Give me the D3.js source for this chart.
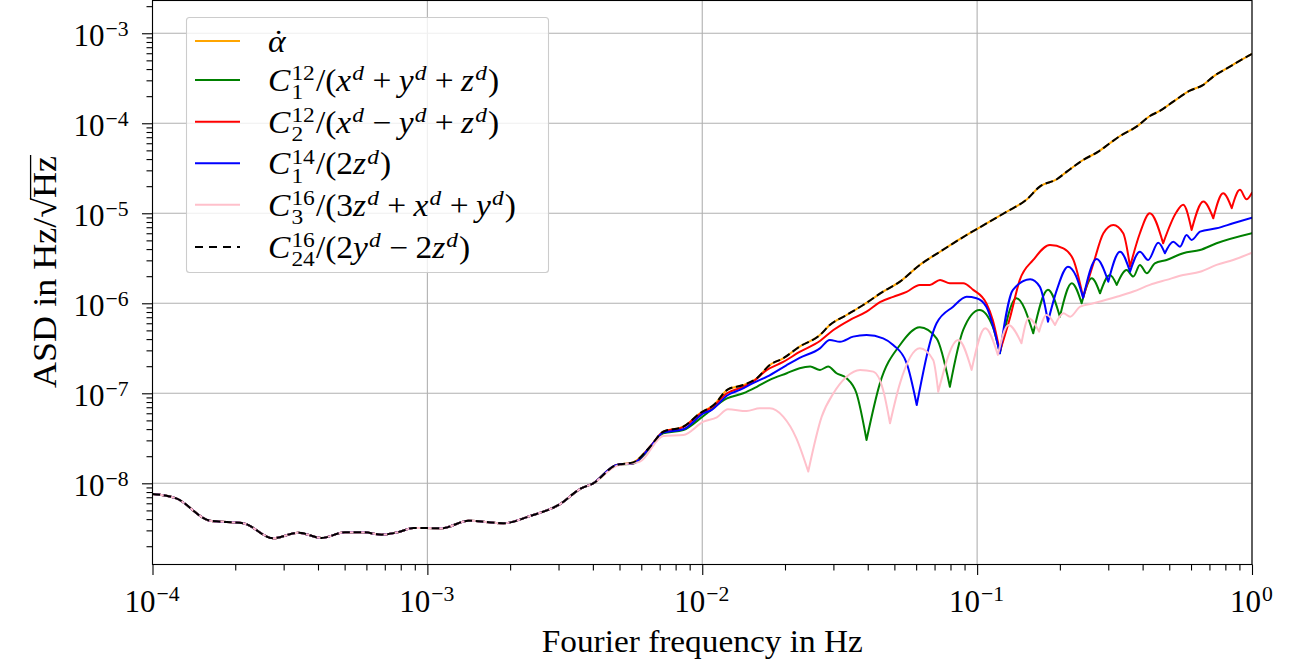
<!DOCTYPE html>
<html>
<head>
<meta charset="utf-8">
<script src="https://cdn.jsdelivr.net/npm/d3@7"></script>
<style>
  body { margin: 0; background: #fff; }
  svg { display: block; }
  text { font-family: "Liberation Serif", "DejaVu Serif", serif; fill: #000; }
</style>
</head>
<body>
<div id="chart"></div>
<script>
// ---- data ----
// all six curves coincide below ~4 mHz
const sharedFreq = [1.0e-4, 1.22e-4, 1.62e-4, 2.14e-4, 2.75e-4, 3.39e-4, 4.12e-4, 5.01e-4, 5.85e-4, 6.83e-4,
  7.94e-4, 8.89e-4, 1.13e-3, 1.41e-3, 1.89e-3, 2.36e-3, 3.03e-3, 3.59e-3, 4.01e-3];
const sharedAsd = [7.6e-9, 6.8e-9, 3.84e-9, 3.6e-9, 2.45e-9, 2.83e-9, 2.47e-9, 2.86e-9, 2.86e-9, 2.69e-9,
  2.90e-9, 3.19e-9, 3.17e-9, 3.84e-9, 3.6e-9, 4.33e-9, 5.84e-9, 8.64e-9, 1.0e-8];

const alphaFreq = [4.88e-3, 5.61e-3, 6.46e-3, 7.21e-3, 8.53e-3, 9.81e-3, 1.10e-2, 1.24e-2, 1.41e-2, 1.58e-2,
  1.76e-2, 1.97e-2, 2.26e-2, 2.68e-2, 2.91e-2, 3.35e-2, 3.85e-2, 4.55e-2, 5.24e-2, 6.19e-2,
  7.33e-2, 9.16e-2, 0.111, 0.128, 0.151, 0.169, 0.195, 0.212, 0.243, 0.276,
  0.304, 0.331, 0.380, 0.425, 0.462, 0.517, 0.594, 0.665, 0.723, 0.831, 0.904, 1.0];
const alphaAsd = [1.6e-8, 1.71e-8, 2.55e-8, 3.74e-8, 4.26e-8, 6.0e-8, 7.41e-8, 1.107e-7, 1.236e-7, 1.47e-7,
  2.06e-7, 2.45e-7, 3.3e-7, 4.44e-7, 5.74e-7, 7.41e-7, 9.57e-7, 1.35e-6, 1.74e-6, 2.67e-6,
  3.74e-6, 5.74e-6, 8.07e-6, 1.04e-5, 1.41e-5, 1.98e-5, 2.39e-5, 2.9e-5, 3.91e-5, 4.84e-5,
  6.0e-5, 7.22e-5, 9.17e-5, 1.205e-4, 1.37e-4, 1.74e-4, 2.30e-4, 2.67e-4, 3.3e-4, 4.26e-4, 4.96e-4, 5.89e-4];

const greenFreq = [4.88e-3, 5.61e-3, 6.46e-3, 7.21e-3, 8.53e-3, 1.01e-2, 1.23e-2, 1.41e-2, 1.58e-2, 1.76e-2,
  2.03e-2, 2.26e-2, 2.47e-2, 2.68e-2, 2.87e-2, 3.08e-2, 3.35e-2, 3.64e-2, 3.96e-2, 4.43e-2,
  5.24e-2, 6.19e-2, 7.12e-2, 7.96e-2, 8.90e-2, 0.102, 0.114, 0.121, 0.139, 0.160,
  0.181, 0.200, 0.221, 0.240, 0.261, 0.280, 0.304, 0.322, 0.350, 0.370,
  0.391, 0.414, 0.443, 0.489, 0.562, 0.647, 0.743, 1.0];
const greenAsd = [1.6e-8, 1.66e-8, 2.47e-8, 3.59e-8, 3.91e-8, 5.6e-8, 8.8e-8, 1.0e-7, 1.18e-7, 1.41e-7,
  1.67e-7, 1.9e-7, 1.98e-7, 1.82e-7, 1.98e-7, 1.67e-7, 1.47e-7, 1.0e-7, 3.03e-8, 1.29e-7,
  3.44e-7, 5.41e-7, 4.08e-7, 1.18e-7, 5.05e-7, 8.43e-7, 5.5e-7, 2.78e-7, 1.14e-6, 4.64e-7,
  1.41e-6, 7.1e-7, 1.67e-6, 1.0e-6, 1.9e-6, 1.29e-6, 2.06e-6, 1.6e-6, 2.34e-6, 1.98e-6,
  2.67e-6, 2.16e-6, 2.78e-6, 3.03e-6, 3.6e-6, 3.91e-6, 4.64e-6, 6.0e-6];

const redFreq = [4.88e-3, 5.61e-3, 6.46e-3, 7.21e-3, 8.53e-3, 9.81e-3, 1.10e-2, 1.23e-2, 1.41e-2, 1.53e-2,
  1.72e-2, 1.97e-2, 2.26e-2, 2.68e-2, 3.00e-2, 3.44e-2, 3.96e-2, 4.43e-2, 4.95e-2, 5.54e-2,
  6.19e-2, 6.73e-2, 7.33e-2, 7.96e-2, 8.90e-2, 9.68e-2, 0.108, 0.114, 0.121, 0.132,
  0.143, 0.160, 0.184, 0.206, 0.224, 0.243, 0.265, 0.288, 0.313, 0.340,
  0.360, 0.391, 0.425, 0.475, 0.532, 0.562, 0.603, 0.665, 0.723, 0.785, 0.844, 0.904, 0.955, 1.0];
const redAsd = [1.6e-8, 1.67e-8, 2.55e-8, 3.72e-8, 4.22e-8, 5.89e-8, 7.22e-8, 1.0e-7, 1.18e-7, 1.35e-7,
  1.82e-7, 2.23e-7, 2.88e-7, 3.81e-7, 5.05e-7, 6.52e-7, 8.07e-7, 1.03e-6, 1.18e-6, 1.34e-6,
  1.6e-6, 1.6e-6, 1.82e-6, 1.67e-6, 1.67e-6, 1.41e-6, 1.0e-6, 6.52e-7, 2.9e-7, 7.1e-7,
  1.82e-6, 3.03e-6, 4.44e-6, 4.08e-6, 3.03e-6, 1.16e-6, 2.78e-6, 6.0e-6, 7.41e-6, 6.0e-6,
  2.55e-6, 6.0e-6, 1.0e-5, 4.64e-6, 1.04e-5, 1.24e-5, 6.52e-6, 1.35e-5, 8.8e-6, 1.67e-5, 1.14e-5, 1.82e-5, 1.43e-5, 1.69e-5];

const blueFreq = [4.88e-3, 5.61e-3, 6.46e-3, 7.21e-3, 8.53e-3, 1.01e-2, 1.08e-2, 1.24e-2, 1.37e-2, 1.53e-2,
  1.72e-2, 2.03e-2, 2.26e-2, 2.68e-2, 2.91e-2, 3.17e-2, 3.54e-2, 3.96e-2, 4.55e-2, 4.95e-2,
  5.54e-2, 6.03e-2, 7.12e-2, 8.18e-2, 9.16e-2, 9.95e-2, 0.108, 0.121, 0.135, 0.156,
  0.169, 0.181, 0.195, 0.214, 0.229, 0.243, 0.272, 0.300, 0.331, 0.360,
  0.391, 0.419, 0.456, 0.482, 0.517, 0.547, 0.578, 0.603, 0.647, 0.743, 0.854, 1.0];
const blueAsd = [1.6e-8, 1.67e-8, 2.53e-8, 3.67e-8, 3.98e-8, 6.0e-8, 6.52e-8, 9.57e-8, 1.09e-7, 1.3e-7,
  1.53e-7, 2.06e-7, 2.47e-7, 3.16e-7, 3.91e-7, 3.74e-7, 4.26e-7, 4.44e-7, 4.08e-7, 3.44e-7,
  2.16e-7, 7.41e-8, 6.0e-7, 9.17e-7, 1.18e-6, 1.14e-6, 9.17e-7, 2.78e-7, 1.41e-6, 1.85e-6,
  1.53e-6, 6.25e-7, 1.41e-6, 2.55e-6, 2.01e-6, 1.15e-6, 3.1e-6, 1.74e-6, 3.74e-6, 2.24e-6,
  3.74e-6, 3.03e-6, 4.71e-6, 3.6e-6, 4.84e-6, 4.26e-6, 5.74e-6, 5.05e-6, 6.25e-6, 6.81e-6, 7.74e-6, 8.93e-6];

const pinkFreq = [4.88e-3, 5.93e-3, 7.21e-3, 8.53e-3, 1.01e-2, 1.13e-2, 1.24e-2, 1.45e-2, 1.62e-2, 1.76e-2,
  1.97e-2, 2.20e-2, 2.43e-2, 2.72e-2, 3.00e-2, 3.35e-2, 3.75e-2, 4.19e-2, 4.55e-2, 4.82e-2,
  5.24e-2, 6.19e-2, 6.92e-2, 7.22e-2, 8.54e-2, 9.55e-2, 0.107, 0.119, 0.130, 0.145,
  0.154, 0.168, 0.179, 0.192, 0.206, 0.218, 0.237, 0.265, 0.322, 0.370,
  0.425, 0.489, 0.562, 0.647, 0.743, 0.854, 1.0];
const pinkAsd = [1.56e-8, 1.74e-8, 3.36e-8, 3.44e-8, 4.84e-8, 5.41e-8, 6.64e-8, 6.36e-8, 6.81e-8, 6.81e-8,
  5.5e-8, 3.16e-8, 1.35e-8, 5.5e-8, 1.0e-7, 1.53e-7, 1.82e-7, 1.74e-7, 1.09e-7, 4.64e-8,
  1.29e-7, 3.16e-7, 2.34e-7, 1.04e-7, 3.91e-7, 1.82e-7, 5.28e-7, 2.67e-7, 5.74e-7, 3.6e-7,
  6.81e-7, 4.84e-7, 7.41e-7, 5.74e-7, 7.74e-7, 7.1e-7, 9.17e-7, 1.0e-6, 1.18e-6, 1.35e-6,
  1.6e-6, 1.82e-6, 2.06e-6, 2.24e-6, 2.67e-6, 3.03e-6, 3.65e-6];

// the C24 combination lies exactly on top of alpha-dot
const c24Freq = alphaFreq;
const c24Asd = alphaAsd;

const xMajor = [1e-4, 1e-3, 1e-2, 1e-1, 1];
const xMajorLabels = ["\u22124", "\u22123", "\u22122", "\u22121", "0"];
const yMajor = [1e-8, 1e-7, 1e-6, 1e-5, 1e-4, 1e-3];
const yMajorLabels = ["\u22128", "\u22127", "\u22126", "\u22125", "\u22124", "\u22123"];

// legend labels as small math pieces
const it = s => ({ t: s, it: true });
const sup = s => ({ sup: s, supIt: true });
const op = s => ({ t: s, pad: 0.22 });
const labels = [
  [{ t: "\u03B1", it: true, dot: true }],
  [it("C"), { sup: "12", sub: "1" }, { t: "/(" }, it("x"), sup("d"), op("+"), it("y"), sup("d"), op("+"), it("z"), sup("d"), { t: ")" }],
  [it("C"), { sup: "12", sub: "2" }, { t: "/(" }, it("x"), sup("d"), op("\u2212"), it("y"), sup("d"), op("+"), it("z"), sup("d"), { t: ")" }],
  [it("C"), { sup: "14", sub: "1" }, { t: "/(2" }, it("z"), sup("d"), { t: ")" }],
  [it("C"), { sup: "16", sub: "3" }, { t: "/(3" }, it("z"), sup("d"), op("+"), it("x"), sup("d"), op("+"), it("y"), sup("d"), { t: ")" }],
  [it("C"), { sup: "16", sub: "24" }, { t: "/(2" }, it("y"), sup("d"), op("\u2212"), { t: "2" }, it("z"), sup("d"), { t: ")" }]
];

const series = [
  { freq: sharedFreq.concat(alphaFreq), asd: sharedAsd.concat(alphaAsd), color: "orange", dash: null },
  { freq: sharedFreq.concat(greenFreq), asd: sharedAsd.concat(greenAsd), color: "green", dash: null },
  { freq: sharedFreq.concat(redFreq), asd: sharedAsd.concat(redAsd), color: "red", dash: null },
  { freq: sharedFreq.concat(blueFreq), asd: sharedAsd.concat(blueAsd), color: "blue", dash: null },
  { freq: sharedFreq.concat(pinkFreq), asd: sharedAsd.concat(pinkAsd), color: "pink", dash: null },
  { freq: sharedFreq.concat(c24Freq), asd: sharedAsd.concat(c24Asd), color: "black", dash: "7.7,3.6" }
];

// ---- layout ----
const width = 1289, height = 665;
const plotLeft = 152.5, plotRight = 1252, plotTop = 0.5, plotBottom = 564.5;
const fs = 31;

const svg = d3.select("#chart").append("svg")
  .attr("width", width).attr("height", height);

const x = d3.scaleLog().domain([1e-4, 1]).range([plotLeft, plotRight]);
const y = d3.scaleLog().domain([1.253e-9, 2.312e-3]).range([plotBottom, plotTop]);

// minor tick positions
const xMinor = [];
[1e-4, 1e-3, 1e-2, 1e-1].forEach(d => { for (let k = 2; k < 10; k++) xMinor.push(d * k); });
const yMinor = [];
[1e-9, 1e-8, 1e-7, 1e-6, 1e-5, 1e-4, 1e-3].forEach(d => {
  for (let k = 2; k < 10; k++) { const v = d * k; if (v > y.domain()[0] && v < y.domain()[1]) yMinor.push(v); }
});

// grid
const grid = svg.append("g").attr("stroke", "#b0b0b0").attr("stroke-width", 1.1);
grid.selectAll(".gx").data(xMajor).enter().append("line")
  .attr("x1", d => x(d)).attr("x2", d => x(d)).attr("y1", plotTop).attr("y2", plotBottom);
grid.selectAll(".gy").data(yMajor).enter().append("line")
  .attr("x1", plotLeft).attr("x2", plotRight).attr("y1", d => y(d)).attr("y2", d => y(d));

// curves
svg.append("clipPath").attr("id", "clip").append("rect")
  .attr("x", plotLeft).attr("y", plotTop).attr("width", plotRight - plotLeft).attr("height", plotBottom - plotTop);

const smooth = d3.line().x(d => x(d[0])).y(d => y(d[1])).curve(d3.curveMonotoneX);
// split at pronounced minima so the notches stay sharp
function pathFor(s) {
  const pts = s.freq.map((f, i) => [f, s.asd[i]]);
  const cuts = [0];
  for (let i = 1; i < pts.length - 1; i++) {
    if (pts[i][1] < 0.8 * pts[i - 1][1] && pts[i][1] < 0.8 * pts[i + 1][1]) cuts.push(i);
  }
  cuts.push(pts.length - 1);
  let d = "";
  for (let k = 0; k < cuts.length - 1; k++) d += smooth(pts.slice(cuts[k], cuts[k + 1] + 1));
  return d;
}

svg.append("g").attr("clip-path", "url(#clip)")
  .selectAll("path").data(series).enter().append("path")
  .attr("d", pathFor)
  .attr("fill", "none")
  .attr("stroke", s => s.color)
  .attr("stroke-width", 2)
  .attr("stroke-linejoin", "round")
  .attr("stroke-linecap", s => s.dash ? "butt" : "round")
  .attr("stroke-dasharray", s => s.dash);

// axes ticks
function ticks(axis, values, size, tr) {
  svg.append("g").attr("transform", tr)
    .call(axis.tickValues(values).tickSize(size).tickFormat(""))
    .call(g => g.select(".domain").remove())
    .call(g => g.selectAll("line").attr("stroke", "#000").attr("stroke-width", 1.1));
}
ticks(d3.axisBottom(x), xMajor, 10.5, `translate(0,${plotBottom})`);
ticks(d3.axisBottom(x), xMinor, 6, `translate(0,${plotBottom})`);
ticks(d3.axisLeft(y), yMajor, 10.5, `translate(${plotLeft},0)`);
ticks(d3.axisLeft(y), yMinor, 6, `translate(${plotLeft},0)`);

// frame
svg.append("rect").attr("x", plotLeft).attr("y", plotTop)
  .attr("width", plotRight - plotLeft).attr("height", plotBottom - plotTop)
  .attr("fill", "none").attr("stroke", "#000").attr("stroke-width", 1.1);

// small math typesetter: returns total advance
function mathText(g, parts, size) {
  const ss = size * 0.7;
  let cx = 0;
  parts.forEach(p => {
    if (p.t != null) {
      const pad = (p.pad || 0) * size;
      const t = g.append("text").attr("x", cx + pad).attr("y", 0)
        .style("font-size", size + "px")
        .style("font-style", p.it ? "italic" : "normal")
        .text(p.t);
      const w = t.node().getComputedTextLength();
      if (p.dot) {
        g.append("text").attr("x", cx + pad + w * 0.6).attr("y", 0)
          .attr("text-anchor", "middle").style("font-size", size + "px").text("\u02D9");
      }
      cx += w + 2 * pad;
    } else {
      let w = 0;
      if (p.sup != null) {
        const t = g.append("text").attr("x", cx + 1).attr("y", -0.34 * size)
          .style("font-size", ss + "px").style("font-style", p.supIt ? "italic" : "normal").text(p.sup);
        w = Math.max(w, t.node().getComputedTextLength());
      }
      if (p.sub != null) {
        const t = g.append("text").attr("x", cx + 1).attr("y", 0.27 * size)
          .style("font-size", ss + "px").text(p.sub);
        w = Math.max(w, t.node().getComputedTextLength());
      }
      cx += w + 2;
    }
  });
  return cx;
}

// tick labels 10^n
xMajor.forEach((v, i) => {
  const g = svg.append("g");
  const w = mathText(g, [{ t: "10" }, { sup: xMajorLabels[i] }], fs);
  g.attr("transform", `translate(${x(v) - w / 2},${plotBottom + 47})`);
});
yMajor.forEach((v, i) => {
  const g = svg.append("g");
  const w = mathText(g, [{ t: "10" }, { sup: yMajorLabels[i] }], fs);
  g.attr("transform", `translate(${plotLeft - 23 - w},${y(v) + 13})`);
});

// axis titles
svg.append("text")
  .attr("x", (plotLeft + plotRight) / 2).attr("y", 652)
  .attr("text-anchor", "middle")
  .attr("textLength", 321).attr("lengthAdjust", "spacingAndGlyphs")
  .style("font-size", fs + "px")
  .text("Fourier frequency in Hz");

const yl = svg.append("g").attr("transform", "translate(56,272) rotate(-90)");
const ylt = yl.append("text").attr("text-anchor", "middle")
  .attr("textLength", 232).attr("lengthAdjust", "spacingAndGlyphs")
  .style("font-size", "33px");
ylt.append("tspan").text("ASD in Hz/\u221AHz");
{
  const node = ylt.node();
  const n = node.getNumberOfChars();
  const rad = node.getExtentOfChar(n - 3);
  const end = node.getEndPositionOfChar(n - 1).x;
  yl.append("line")
    .attr("x1", rad.x + rad.width - 1.5).attr("x2", end + 1)
    .attr("y1", -0.77 * 33).attr("y2", -0.77 * 33)
    .attr("stroke", "#000").attr("stroke-width", 1.3);
}

// legend
const legRows = [41, 80, 121.7, 163.3, 204.7, 247];
const leg = svg.append("g");
leg.append("rect").attr("x", 186.5).attr("y", 17.5).attr("width", 362).attr("height", 255)
  .attr("rx", 3).attr("fill", "#fff").attr("fill-opacity", 0.8)
  .attr("stroke", "#cccccc").attr("stroke-width", 1.1);
series.forEach((s, i) => {
  leg.append("line").attr("x1", 195).attr("x2", 240)
    .attr("y1", legRows[i]).attr("y2", legRows[i])
    .attr("stroke", s.color).attr("stroke-width", 2)
    .attr("stroke-dasharray", s.dash ? "8,6" : null);
  const g = leg.append("g").attr("transform", `translate(268,${legRows[i] + 11}) scale(1.08,1)`);
  mathText(g, labels[i], fs);
});
</script>
</body>
</html>
